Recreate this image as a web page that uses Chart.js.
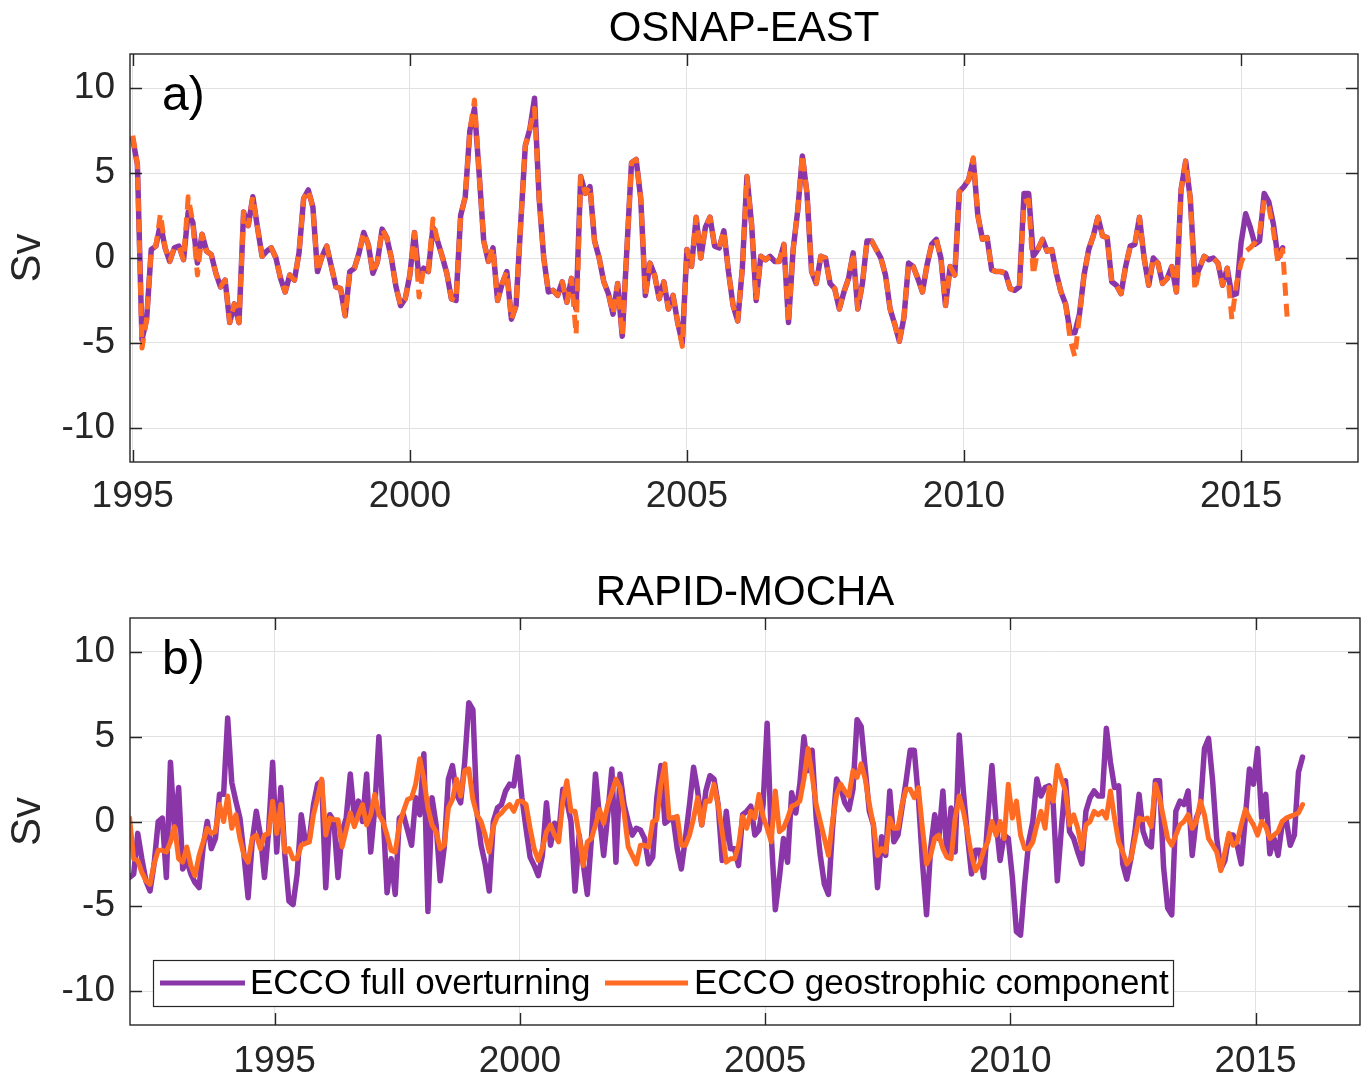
<!DOCTYPE html>
<html>
<head>
<meta charset="utf-8">
<script src="https://cdn.jsdelivr.net/npm/chart.js@4/dist/chart.umd.min.js"></script>
<style>
html,body{margin:0;padding:0;background:#ffffff;}
#wrap{position:relative;width:1368px;height:1081px;overflow:hidden;background:#fff;}
.panel{position:absolute;left:0;width:1368px;}
</style>
</head>
<body>
<div id="wrap">
  <div class="panel" style="top:0;height:540px"><canvas id="c1" width="1368" height="540"></canvas></div>
  <div class="panel" style="top:540px;height:541px"><canvas id="c2" width="1368" height="541"></canvas></div>
</div>
<script>
// ---------- DATA ----------
const yTicks = [-10, -5, 0, 5, 10];
const xTicks = [1995, 2000, 2005, 2010, 2015];
const seriesLabels = ['ECCO full overturning', 'ECCO geostrophic component'];
const panelTitles = ['OSNAP-EAST', 'RAPID-MOCHA'];
const panelLetters = ['a)', 'b)'];

// OSNAP-EAST, monthly from Jan 1995
const osnapStart = 1995;
const osnapFull = [
7.0,5.5,-4.8,-3.6,0.5,0.7,2.0,0.6,-0.2,0.6,
0.7,-0.1,2.7,2.1,-0.3,1.4,0.4,0.2,-0.9,-1.7,
-1.3,-3.8,-2.7,-3.8,2.7,1.9,3.6,1.8,0.1,0.4,
0.6,0.0,-1.2,-2.0,-1.0,-1.3,0.3,3.5,4.0,3.0,
-0.8,0.1,0.7,-0.5,-1.7,-1.8,-3.4,-0.8,-0.6,0.3,
1.5,0.8,-0.9,-0.2,1.7,1.2,0.0,-1.7,-2.8,-2.4,
-1.0,1.5,-1.2,-0.6,-0.8,1.8,1.0,0.1,-0.9,-2.4,
-2.5,2.5,3.6,7.5,8.8,5.0,1.0,-0.2,0.6,-2.5,
-1.5,-0.8,-3.6,-2.8,2.0,6.6,7.6,9.4,3.5,0.0,
-2.0,-1.9,-2.2,-1.4,-2.6,-1.2,-3.0,4.8,3.8,4.2,
1.0,0.0,-1.4,-2.1,-3.3,-1.5,-4.6,0.5,5.6,5.8,
3.5,-2.2,-0.3,-1.0,-2.4,-1.4,-3.0,-2.2,-3.8,-5.0,
0.5,-0.5,2.4,0.0,1.8,2.4,0.7,0.6,1.6,-0.8,
-2.8,-3.7,-0.6,4.8,2.0,-2.5,0.1,-0.1,0.1,-0.2,
-0.2,0.8,-3.8,0.5,2.8,6.0,3.8,-0.8,-1.5,0.1,
0.0,-1.5,-1.8,-3.0,-2.0,-1.2,0.3,-3.0,-1.5,1.0,
1.0,0.5,0.0,-1.0,-3.0,-3.9,-4.9,-3.5,-0.3,-0.5,
-1.2,-2.0,-0.4,0.8,1.1,0.0,-2.8,-0.5,-1.0,3.9,
4.2,4.6,5.8,2.5,1.1,1.2,-0.7,-0.8,-0.8,-0.9,
-1.8,-1.9,-1.7,3.8,3.8,0.1,0.5,1.1,0.4,0.5,
-0.9,-2.0,-2.7,-4.4,-4.4,-3.3,-1.0,0.5,1.3,2.4,
1.3,1.2,-1.4,-1.6,-2.1,-0.5,0.7,0.8,2.4,0.0,
-1.6,0.0,-0.3,-1.5,-1.2,-0.5,-2.0,4.0,5.7,3.5,
-1.2,-0.6,0.1,-0.1,0.0,-0.3,-1.6,-0.6,-2.2,-2.1,
0.9,2.6,1.8,0.8,1.0,3.8,3.3,2.0,0.0,0.6
];
const osnapGeo = [
7.2,5.5,-5.3,-3.6,0.5,0.7,2.6,0.6,-0.2,0.6,
0.7,-0.1,3.6,2.1,-1.0,1.4,0.4,0.2,-0.9,-1.7,
-1.3,-3.8,-2.7,-3.8,2.7,1.9,3.6,1.8,0.1,0.4,
0.6,0.0,-1.2,-2.0,-1.0,-1.3,0.3,3.5,4.0,3.0,
-0.8,0.1,0.7,-0.5,-1.7,-1.8,-3.4,-0.8,-0.6,0.3,
1.5,0.8,-0.9,-0.2,1.7,1.2,0.0,-1.7,-2.8,-2.4,
-1.0,1.5,-2.3,-0.6,-0.8,2.3,1.0,0.1,-0.9,-2.4,
-2.5,2.5,3.6,7.5,9.3,5.0,1.0,-0.2,0.6,-2.5,
-1.5,-0.8,-3.6,-2.8,2.0,6.6,7.6,8.8,3.5,0.0,
-2.0,-1.9,-2.2,-1.4,-2.6,-1.2,-4.5,4.8,3.8,4.2,
1.0,0.0,-1.4,-2.1,-3.3,-1.5,-4.6,0.5,5.6,5.8,
3.5,-2.2,-0.3,-1.0,-2.4,-1.4,-3.0,-2.2,-3.8,-5.2,
0.5,-0.5,2.4,0.0,1.8,2.4,0.7,0.6,1.6,-0.8,
-2.8,-3.7,-0.6,4.8,2.0,-2.5,0.1,-0.1,0.1,-0.2,
-0.2,0.8,-3.8,0.5,2.8,6.1,3.8,-0.8,-1.5,0.1,
0.0,-1.5,-1.8,-3.0,-2.0,-1.2,0.3,-3.0,-1.5,1.0,
1.0,0.5,0.0,-1.0,-3.0,-3.9,-4.9,-3.5,-0.3,-0.5,
-1.2,-2.0,-0.4,0.8,1.1,0.0,-2.8,-0.5,-1.0,3.9,
4.2,4.6,5.9,2.5,1.1,1.2,-0.7,-0.8,-0.8,-0.9,
-1.8,-1.9,-1.7,3.3,3.4,-1.0,0.5,1.1,0.4,0.5,
-0.9,-2.0,-2.7,-4.8,-5.8,-3.4,-1.0,0.5,1.3,2.4,
1.3,1.2,-1.4,-1.6,-2.1,-0.5,0.7,0.8,2.4,0.0,
-1.6,0.0,-0.3,-1.5,-1.2,-0.5,-2.0,4.0,5.7,3.5,
-1.9,-0.6,0.1,-0.1,0.0,-0.3,-1.6,-0.6,-3.6,-1.5,
-0.3,0.4,0.6,0.9,1.5,3.4,3.0,1.6,-0.3,0.5,
-3.6
];

// RAPID-MOCHA, monthly from Jan 1992 (mid-month)
const rapidStart = 1992;
const rapidFull = [
-3.3,-3.1,-0.7,-2.2,-3.5,-4.1,-2.5,0.0,0.2,-3.3,
3.5,-0.6,2.0,-2.8,-2.3,-3.1,-3.6,-3.9,-1.5,0.0,
-1.6,-1.0,1.6,1.6,6.1,2.3,1.2,0.2,-2.0,-4.5,
-1.2,0.6,-0.8,-3.3,-0.6,3.5,-1.8,2.0,-2.0,-4.7,
-4.9,-3.1,0.4,-1.2,-1.0,1.0,2.2,2.4,-3.9,0.4,
0.0,-3.3,-0.6,0.2,2.8,0.2,1.2,0.0,2.8,-1.8,
0.8,5.0,0.6,-4.2,-2.2,-4.3,0.2,0.4,-0.5,-1.4,
1.4,0.4,4.0,-5.3,1.4,-0.2,-3.5,-1.5,2.5,3.3,
1.6,1.1,3.5,7.0,6.6,0.5,-1.4,-2.5,-4.1,0.0,
0.8,1.0,1.8,2.2,2.1,3.8,1.4,-0.4,-2.1,-2.6,
-3.2,-2.0,1.1,-1.4,-0.1,-0.8,1.9,1.2,0.0,-4.1,
-0.8,-2.5,-4.3,-1.0,2.8,0.2,-2.0,0.4,3.1,-2.4,
2.8,1.0,0.0,-0.8,-0.4,-0.5,-1.0,-2.5,-2.1,1.4,
3.3,-0.1,0.1,0.2,-1.6,-2.8,-1.0,1.0,3.2,1.8,
-0.2,1.8,2.7,2.5,1.0,-2.3,0.6,-1.6,-1.6,-2.6,
0.4,0.6,0.9,-0.8,-0.5,1.0,5.8,-0.8,-5.2,-3.3,
-1.0,-2.4,1.7,0.5,2.2,5.0,3.0,4.2,0.2,-2.0,
-3.7,-4.3,-0.4,2.5,2.0,1.1,0.7,1.9,6.0,5.6,
3.1,0.6,-0.2,-3.9,-0.9,-2.0,1.8,-1.2,-0.8,0.8,
2.4,4.2,4.2,1.4,-2.4,-5.5,-1.6,0.4,-1.0,1.8,
-2.0,0.8,-1.8,5.1,1.8,-0.8,-3.1,-1.7,-1.7,-3.3,
0.2,3.3,0.0,-2.3,-0.8,-1.0,-3.3,-6.5,-6.7,-3.7,
-1.2,0.0,2.5,1.5,2.0,2.1,1.0,-3.5,-0.4,2.4,
-0.6,-1.0,-1.8,-2.5,0.6,1.4,1.8,1.5,1.5,5.5,
3.5,2.0,2.1,-2.5,-3.4,-2.2,-0.6,1.6,-0.6,-1.3,
-1.5,2.4,2.4,-2.7,-5.1,-5.5,0.6,1.2,1.0,1.8,
-2.0,0.2,0.8,4.3,4.9,2.4,-1.0,-2.8,-2.3,-0.8,
-0.8,-1.4,-2.5,0.2,3.1,2.2,4.3,0.2,1.6,-1.9,
-1.0,-2.0,-0.2,0.1,-1.4,-0.8,2.9,3.8
];
const rapidGeo = [
0.2,-2.2,-2.3,-3.0,-3.5,-3.7,-2.5,-1.7,-1.7,-1.8,
-1.2,-0.3,-2.2,-2.4,-1.5,-2.6,-3.2,-2.0,-1.2,-0.4,
-0.7,-0.6,1.0,0.0,1.5,-0.4,0.4,-1.0,-2.0,-2.4,
-1.0,-0.8,-1.6,-0.8,-0.7,1.2,-0.7,1.0,-1.8,-1.6,
-2.2,-2.2,-1.4,-1.3,-1.2,0.4,1.4,2.5,-0.8,0.2,
0.1,0.1,-1.5,-0.5,0.5,-0.3,0.4,1.0,-0.2,0.4,
1.6,0.4,0.0,-0.8,-1.7,-1.8,-0.2,0.6,1.3,1.4,
2.2,3.7,2.5,0.8,-0.2,-0.6,-1.6,-1.4,0.8,1.3,
2.5,1.5,3.0,3.1,1.3,0.4,0.0,-0.8,-1.8,-0.3,
0.3,0.5,0.8,1.0,0.6,1.2,1.2,1.0,-0.4,-1.6,
-2.3,-1.6,-0.6,-0.2,-0.8,-1.2,1.2,2.4,0.6,0.6,
-0.8,-2.6,-1.2,-1.0,-0.2,0.7,-0.1,1.0,1.7,2.5,
2.0,0.5,-1.5,-2.0,-2.5,-1.4,-1.4,-1.5,0.0,0.1,
2.2,3.4,0.2,0.2,0.3,-1.4,-1.4,-0.8,0.2,1.4,
-0.2,1.2,1.2,2.2,1.0,-0.6,-2.4,-2.2,-2.2,-1.4,
0.3,-0.4,0.6,0.2,1.6,0.3,-0.4,-1.2,1.8,-0.6,
-0.4,0.2,0.9,1.0,1.2,2.5,4.3,2.7,1.0,0.0,
-1.0,-2.0,0.0,1.6,2.2,1.8,1.5,3.0,2.6,3.4,
2.5,1.0,-0.2,-2.0,-1.6,-1.8,0.2,-0.4,-0.4,1.0,
1.9,1.9,1.4,2.0,-0.4,-2.5,-2.0,-1.0,-0.8,-1.6,
-2.1,-2.2,0.2,1.5,0.6,-0.6,-2.0,-2.9,-2.5,-1.7,
-1.2,0.0,-0.8,0.0,-1.0,2.2,0.2,1.2,-0.8,-1.6,
-1.6,-1.2,-0.2,0.6,-0.4,2.0,1.2,3.3,2.5,1.8,
-0.2,0.4,-0.4,-1.6,-0.2,0.0,0.6,0.4,0.6,0.2,
1.8,0.2,-1.2,-1.8,-2.5,-2.2,-1.0,0.2,0.1,0.2,
-0.3,2.2,1.4,0.2,-1.0,-1.4,-0.8,-0.2,0.0,0.4,
-0.4,0.0,1.2,0.4,-1.0,-1.4,-1.8,-2.9,-1.8,-0.7,
-1.4,-1.2,-0.2,0.7,0.2,-0.2,-0.8,0.0,-0.3,-1.0,
-0.8,-0.6,0.0,0.2,0.3,0.4,0.5,1.0
];

// ---------- STYLE ----------
const PURPLE = '#8a36a8';
const ORANGE = '#ff6b22';
const AXIS = '#262626';
const GRID = '#e2e2e2';
const FONT = '"Liberation Sans", Arial, Helvetica, sans-serif';
const TICK_SIZE = 37;

function monthly(start, values, offset) {
  return values.map((v, i) => ({ x: start + (i + offset) / 12, y: v }));
}

const decor = {
  id: 'decor',
  afterDraw(chart, args, o) {
    const ctx = chart.ctx, a = chart.chartArea;
    const xs = chart.scales.x, ys = chart.scales.y;
    ctx.save();
    // box
    ctx.strokeStyle = AXIS;
    ctx.lineWidth = 1.4;
    ctx.strokeRect(a.left, a.top, a.right - a.left, a.bottom - a.top);
    // inward ticks on all sides
    const L = 12;
    ctx.beginPath();
    xs.ticks.forEach(t => {
      const p = Math.round(xs.getPixelForValue(t.value)) + 0.5;
      ctx.moveTo(p, a.bottom); ctx.lineTo(p, a.bottom - L);
      ctx.moveTo(p, a.top); ctx.lineTo(p, a.top + L);
    });
    ys.ticks.forEach(t => {
      const p = Math.round(ys.getPixelForValue(t.value)) + 0.5;
      ctx.moveTo(a.left, p); ctx.lineTo(a.left + L, p);
      ctx.moveTo(a.right, p); ctx.lineTo(a.right - L, p);
    });
    ctx.stroke();
    // title
    ctx.fillStyle = '#000';
    ctx.font = '42px ' + FONT;
    ctx.textAlign = 'center';
    ctx.textBaseline = 'alphabetic';
    ctx.fillText(o.title, (a.left + a.right) / 2, a.top - 13);
    // panel letter
    ctx.font = '48px ' + FONT;
    ctx.textAlign = 'left';
    ctx.fillText(o.letter, a.left + 32, a.top + 56);
    // y label
    ctx.save();
    ctx.translate(28, (a.top + a.bottom) / 2);
    ctx.rotate(-Math.PI / 2);
    ctx.fillStyle = AXIS;
    ctx.font = '42px ' + FONT;
    ctx.textAlign = 'center';
    ctx.textBaseline = 'middle';
    ctx.fillText('Sv', 0, 0);
    ctx.restore();
    // legend
    if (o.legend) {
      const bx = a.left + 23, by = a.bottom - 65, bw = 1020, bh = 46;
      ctx.fillStyle = '#fff';
      ctx.fillRect(bx, by, bw, bh);
      ctx.strokeStyle = AXIS;
      ctx.lineWidth = 1.2;
      ctx.strokeRect(bx + 0.5, by + 0.5, bw, bh);
      const cy = by + bh / 2;
      const ds = chart.data.datasets;
      const items = [{ x0: bx + 7, x1: bx + 92, tx: bx + 97 }, { x0: bx + 452, x1: bx + 535, tx: bx + 541 }];
      items.forEach((it, k) => {
        ctx.strokeStyle = ds[k].borderColor;
        ctx.lineWidth = 5;
        ctx.setLineDash([]);
        ctx.beginPath(); ctx.moveTo(it.x0, cy); ctx.lineTo(it.x1, cy); ctx.stroke();
        ctx.fillStyle = '#000';
        ctx.font = '35px ' + FONT;
        ctx.textAlign = 'left';
        ctx.textBaseline = 'middle';
        ctx.fillText(ds[k].label, it.tx, cy + 1);
      });
    }
    ctx.restore();
  }
};

function makeChart(id, cfg) {
  return new Chart(document.getElementById(id), {
    type: 'line',
    data: { datasets: cfg.datasets },
    options: {
      responsive: false,
      animation: false,
      devicePixelRatio: 1,
      layout: { padding: { left: 0, right: cfg.padRight, top: cfg.padTop, bottom: 0 } },
      elements: { point: { radius: 0 }, line: { tension: 0 } },
      plugins: {
        legend: { display: false },
        tooltip: { enabled: false },
        decor: { title: cfg.title, letter: cfg.letter, legend: cfg.legend }
      },
      scales: {
        x: {
          type: 'linear',
          min: cfg.xMin, max: cfg.xMax,
          afterBuildTicks: s => { s.ticks = xTicks.map(v => ({ value: v })); },
          afterFit: s => { s.height = cfg.xAxisH; },
          ticks: { color: AXIS, font: { size: TICK_SIZE, family: FONT }, padding: cfg.xPad, maxRotation: 0, callback: v => String(v) },
          grid: { color: GRID, lineWidth: 1, drawTicks: false },
          border: { display: false }
        },
        y: {
          min: -12, max: 12,
          afterBuildTicks: s => { s.ticks = yTicks.map(v => ({ value: v })); },
          afterFit: s => { s.width = 130; },
          ticks: { color: AXIS, font: { size: TICK_SIZE, family: FONT }, padding: 15, callback: v => String(v) },
          grid: { color: GRID, lineWidth: 1, drawTicks: false },
          border: { display: false }
        }
      }
    },
    plugins: [decor]
  });
}

makeChart('c1', {
  title: panelTitles[0], letter: panelLetters[0], legend: false,
  xMin: 1994.95, xMax: 2017.11, padRight: 10, padTop: 54, xAxisH: 78, xPad: 13,
  datasets: [
    { label: seriesLabels[0], data: monthly(osnapStart, osnapFull, 0), borderColor: PURPLE, borderWidth: 5.5, borderJoinStyle: 'round', borderCapStyle: 'round', order: 2 },
    { label: seriesLabels[1], data: monthly(osnapStart, osnapGeo, 0), borderColor: ORANGE, borderWidth: 5, borderDash: [13, 8], borderJoinStyle: 'round', order: 1 }
  ]
});

makeChart('c2', {
  title: panelTitles[1], letter: panelLetters[1], legend: true,
  xMin: 1992.05, xMax: 2017.13, padRight: 8, padTop: 78, xAxisH: 56, xPad: 15,
  datasets: [
    { label: seriesLabels[0], data: monthly(rapidStart, rapidFull, 0.5), borderColor: PURPLE, borderWidth: 5.5, borderJoinStyle: 'round', borderCapStyle: 'round', order: 2 },
    { label: seriesLabels[1], data: monthly(rapidStart, rapidGeo, 0.5), borderColor: ORANGE, borderWidth: 5, borderJoinStyle: 'round', borderCapStyle: 'round', order: 1 }
  ]
});
</script>
</body>
</html>
